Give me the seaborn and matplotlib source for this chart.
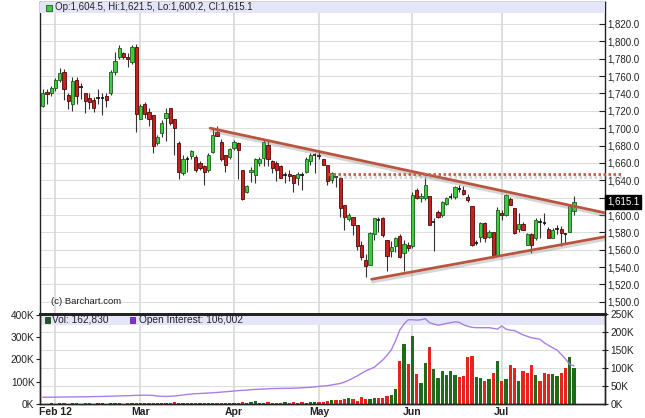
import numpy as np
import pandas as pd
import seaborn as sns
import matplotlib.pyplot as plt
import matplotlib.patheffects as pe
from matplotlib.patches import Rectangle

# daily candles, Jan 27 .. Jul 26 (trading days, index 0..125)
opens = [1726, 1742, 1740, 1746, 1755, 1765, 1738, 1728, 1755, 1747, 1741, 1735, 1732, 1735, 1735, 1737,
         1740, 1765, 1782, 1786, 1782, 1776, 1793, 1711, 1728, 1719, 1715, 1683, 1694, 1712, 1723, 1710,
         1683, 1648, 1664, 1668, 1667, 1660, 1656, 1652, 1673, 1696, 1684, 1669, 1667, 1677, 1683, 1652,
         1626, 1650, 1646, 1660, 1666, 1681, 1662, 1660, 1657, 1647, 1647, 1646, 1643, 1647, 1649, 1662,
         1670, 1668, 1664, 1658, 1640, 1644, 1643, 1611, 1595, 1598, 1588, 1566, 1548, 1543, 1578, 1594,
         1597, 1571, 1558, 1564, 1576, 1556, 1566, 1564, 1629, 1620, 1620, 1622, 1592, 1604, 1600, 1613,
         1621, 1621, 1631, 1629, 1621, 1610, 1567, 1575, 1591, 1575, 1581, 1554, 1602, 1600, 1618, 1608,
         1584, 1590, 1566, 1578, 1573, 1593, 1590, 1584, 1574, 1583, 1584, 1578, 1581, 1604.5]
highs = [1745, 1745, 1749, 1758, 1769, 1768, 1741, 1759, 1759, 1752, 1741, 1740, 1736, 1745, 1740, 1740,
         1767, 1788, 1796, 1788, 1786, 1796, 1797, 1728, 1730, 1723, 1715, 1692, 1709, 1723, 1723, 1710,
         1685, 1669, 1668, 1675, 1669, 1662, 1658, 1671, 1700, 1703, 1688, 1669, 1677, 1686, 1684, 1652,
         1635, 1655, 1666, 1667, 1686, 1685, 1663, 1662, 1658, 1650, 1652, 1646, 1650, 1650, 1667, 1671,
         1671, 1675, 1664, 1658, 1650, 1645, 1644, 1611, 1602, 1598, 1588, 1570, 1555, 1580, 1597, 1598,
         1598, 1571, 1570, 1575, 1578, 1571, 1569, 1626, 1631, 1625, 1643, 1622, 1596, 1606, 1616, 1621,
         1625, 1633, 1635, 1633, 1624, 1610, 1571, 1592, 1592, 1583, 1581, 1609, 1606, 1624, 1621, 1608,
         1602, 1592, 1579, 1579, 1596, 1597, 1602, 1586, 1585, 1588, 1587, 1579, 1612, 1621.5]
lows = [1724, 1728, 1737, 1743, 1753, 1732, 1722, 1720, 1728, 1734, 1717, 1722, 1719, 1728, 1715, 1724,
        1738, 1761, 1780, 1780, 1770, 1774, 1696, 1710, 1712, 1702, 1671, 1681, 1690, 1685, 1704, 1669,
        1641, 1646, 1650, 1665, 1650, 1652, 1635, 1650, 1671, 1691, 1662, 1650, 1665, 1675, 1641, 1617,
        1625, 1638, 1637, 1656, 1656, 1656, 1648, 1639, 1643, 1637, 1639, 1627, 1635, 1629, 1648, 1658,
        1648, 1664, 1658, 1635, 1637, 1632, 1598, 1583, 1593, 1577, 1560, 1548, 1529, 1542, 1571, 1581,
        1575, 1536, 1552, 1557, 1550, 1535, 1558, 1562, 1618, 1615, 1617, 1589, 1558, 1596, 1598, 1612,
        1618, 1619, 1627, 1623, 1615, 1564, 1565, 1569, 1569, 1573, 1550, 1553, 1594, 1599, 1611, 1578,
        1581, 1583, 1565, 1556, 1571, 1573, 1588, 1573, 1573, 1578, 1564, 1568, 1580, 1600.2]
closes = [1741, 1739, 1746, 1756, 1764, 1745, 1731, 1754, 1737, 1747, 1731, 1730, 1723, 1734, 1735, 1732,
          1765, 1777, 1792, 1782, 1780, 1794, 1716, 1725, 1716, 1711, 1680, 1690, 1706, 1718, 1706, 1700,
          1650, 1665, 1664, 1674, 1652, 1654, 1649, 1669, 1692, 1691, 1664, 1658, 1676, 1684, 1675, 1618,
          1633, 1652, 1664, 1664, 1684, 1664, 1654, 1652, 1643, 1646, 1645, 1637, 1647, 1646, 1665, 1669,
          1669, 1668, 1658, 1639, 1648, 1643, 1608, 1598, 1600, 1589, 1564, 1552, 1541, 1579, 1596, 1595,
          1577, 1553, 1563, 1573, 1552, 1567, 1562, 1623, 1620, 1622, 1635, 1589, 1593, 1598, 1615, 1620,
          1621, 1632, 1630, 1624, 1617, 1566, 1568, 1591, 1574, 1581, 1554, 1606, 1600, 1623, 1612, 1579,
          1590, 1583, 1578, 1566, 1594, 1592, 1591, 1573, 1583, 1584, 1579, 1578, 1610, 1615.1]

# volume (left scale, K) and open interest (right scale, K)
volumes = [2, 2, 3, 2, 3, 3, 2, 3, 3, 2, 3, 3, 2, 3, 3, 2, 4, 3, 3, 2, 3, 3, 4,
           3, 4, 3, 5, 4, 4, 3, 4, 9, 5, 4, 4, 5, 4, 6, 4, 5, 5, 4, 6, 5, 6,
           6, 5, 9, 6, 7, 13, 6, 5, 7, 6, 6, 5, 7, 6, 8, 5, 7, 6, 8, 7,
           10, 10, 13, 18, 18, 18, 21, 26, 22, 14, 32, 22, 22, 29, 29,
           29, 37, 40, 66, 192, 269, 178, 307, 136, 96, 184, 254, 158, 117, 149, 130, 150, 131, 122, 125,
           213, 216, 122, 117, 104, 114, 141, 192, 102, 110, 173, 162, 102, 150, 141, 173, 130, 102, 141,
           133, 136, 126, 141, 162, 210, 162.83]
open_interest = [18.5, 18.7, 18.9, 19.0, 19.2, 19.3, 19.5, 19.6, 19.8, 19.9, 20.1, 20.3, 20.6, 20.8, 21.0,
                 21.3, 21.6, 22.0, 22.4, 22.8, 23.1, 23.5, 24.0,
                 24.2, 24.4, 24.3, 23.8, 22.0, 21.2, 21.0, 21.5, 22.3, 23.5, 25.0, 26.5, 27.8, 28.6, 29.2,
                 29.8, 30.5, 31.2, 32.0, 33.0, 34.1, 35.0,
                 36.0, 37.2, 37.8, 38.5, 39.6, 40.6, 41.0, 41.5, 42.2, 42.8, 43.0, 43.3, 43.6, 43.5, 44.0,
                 44.4, 45.0, 45.8, 46.5, 47.4,
                 49, 50, 51, 53, 55, 57, 61, 66, 72, 78, 85, 92, 97, 102,
                 112, 122, 135, 150, 175, 205, 222, 234, 234, 233, 234, 237, 226, 222, 219, 221, 224, 226,
                 228, 227, 220, 216, 213, 212, 212, 212, 212, 210, 208, 217, 208, 205, 204, 198, 192, 188,
                 184, 182, 180, 170, 163, 156, 150, 138, 125, 110, 106.002]

month_ticks = [3, 23, 45, 65, 87, 108]
month_labels = ["Feb 12", "Mar", "Apr", "May", "Jun", "Jul"]
price_ticks = list(range(1500, 1821, 20))
vol_ticks = [0, 100, 200, 300, 400]
oi_ticks = [0, 50, 100, 150, 200, 250]

# drawn trend lines (index, price)
upper_line = ([39.4, 132.3], [1700, 1602.5])
lower_line = ([77.4, 132.3], [1526, 1575])
resist_line = ([67.1, 136.3], [1647.4, 1647.4])

sns.set_style("white")
plt.rcParams['font.family'] = ['Liberation Sans', 'DejaVu Sans']
plt.rcParams['font.size'] = 7

df = pd.DataFrame({'k': np.arange(len(closes)), 'open': opens, 'high': highs, 'low': lows,
                   'close': closes, 'volume': volumes, 'oi': open_interest})
df['up'] = df['close'] >= df['open']
df['vol_up'] = df['close'].diff().fillna(1) >= 0

W, H = 645, 418
fig = plt.figure(figsize=(W / 100, H / 100), dpi=100)
ax = fig.add_axes([40 / W, 1 - 314 / H, 565 / W, 312 / H])
axv = fig.add_axes([40 / W, 1 - 404 / H, 565 / W, 90 / H])
xlim = (-0.64, 132.3)
grid_c = '#dedede'

# price panel
ax.set_xlim(*xlim)
ax.set_ylim(1486, 1845.3)
for p in price_ticks:
    ax.axhline(p, color=grid_c, lw=0.8, zorder=0)
for m in month_ticks:
    ax.axvline(m, color='#d8d8d8', lw=1.2, zorder=0)

green, green_e = '#3ccc3c', '#1c5a1c'
red, red_e = '#cc2020', '#4a0808'
ax.vlines(df['k'], df['low'], df['high'], color='#333333', lw=0.8, zorder=2)
for _, r in df.iterrows():
    lo, hi = min(r['open'], r['close']), max(r['open'], r['close'])
    if hi - lo < 1.5:
        ax.hlines((lo + hi) / 2, r['k'] - 0.4, r['k'] + 0.4, color='#111111', lw=1.2, zorder=3)
    else:
        ax.bar(r['k'], hi - lo, bottom=lo, width=0.74, color=green if r['up'] else red,
               edgecolor=green_e if r['up'] else red_e, lw=0.6, zorder=3)

line_c = '#b9553f'
shadow = [pe.SimpleLineShadow(offset=(0.5, -2.0), alpha=0.35, shadow_color='#888888'), pe.Normal()]
ax.plot(*upper_line, color=line_c, lw=2.0, zorder=4, solid_capstyle='round', path_effects=shadow)
ax.plot(*lower_line, color=line_c, lw=2.0, zorder=4, solid_capstyle='round', path_effects=shadow)
ax.plot(*resist_line, color='#c4604a', lw=2.0, ls=(0, (0.9, 0.9)), zorder=4, clip_on=False,
        path_effects=shadow)

ax.yaxis.tick_right()
ax.set_yticks(price_ticks)
# the last-price box takes the place of the 1,620.0 label
ax.set_yticklabels(["" if abs(p - closes[-1]) < 10 else f"{p:,.1f}" for p in price_ticks])
ax.tick_params(axis='y', direction='in', length=4, pad=2, labelsize=7, colors='#222222')
ax.set_xticks([])
for s in ax.spines.values():
    s.set_color('#222222')
    s.set_linewidth(1.0)

ax.add_patch(Rectangle((0, 1 - 11 / 312), 1, 11 / 312, transform=ax.transAxes,
                       facecolor='#e5e5f9', edgecolor='none', zorder=5))
ax.add_patch(Rectangle((6 / 565, 1 - 9 / 312), 6 / 565, 6 / 312, transform=ax.transAxes,
                       facecolor=green, edgecolor=green_e, lw=0.6, zorder=6))
ax.text(15 / 565, 1 - 5.5 / 312, "Op:1,604.5, Hi:1,621.5, Lo:1,600.2, Cl:1,615.1",
        transform=ax.transAxes, va='center', ha='left', fontsize=7.0, color='#222222', zorder=6)
ax.text(11 / 565, 12 / 312, "(c) Barchart.com", transform=ax.transAxes, va='center', ha='left',
        fontsize=6.8, color='#222222')
ax.text(1.004, closes[-1], f"{closes[-1]:,.1f}", transform=ax.get_yaxis_transform(),
        va='center', ha='left', fontsize=7, color='white', zorder=10, clip_on=False,
        bbox=dict(boxstyle='square,pad=0.2', facecolor='black', edgecolor='black'))

# volume panel
axv.set_xlim(*xlim)
axv.set_ylim(0, 404)
for v in oi_ticks[1:]:
    axv.axhline(v * 1.616, color=grid_c, lw=0.8, zorder=0)
for m in month_ticks:
    axv.axvline(m, color='#d8d8d8', lw=1.2, zorder=0)
axv.bar(df['k'], df['volume'], width=0.72,
        color=np.where(df['vol_up'], '#1e6b1e', '#e8231e'), lw=0, zorder=2)
axv.add_patch(Rectangle((0, 1 - 11 / 90), 1, 11 / 90, transform=axv.transAxes,
                        facecolor='#e5e5f9', edgecolor='none', zorder=1))
axv.set_yticks(vol_ticks)
axv.set_yticklabels([f"{v}K" for v in vol_ticks])
axv.tick_params(axis='y', direction='out', length=3, pad=1, labelsize=7.3, colors='#222222')
axv.set_xticks(month_ticks)
axv.set_xticklabels(month_labels, fontweight='bold')
axv.tick_params(axis='x', length=0, pad=2, labelsize=7.5, colors='#222222')

axo = axv.twinx()
sns.lineplot(data=df, x='k', y='oi', ax=axo, color='#a97ee6', lw=1.0, zorder=5)
axo.set_xlim(*xlim)
axo.set_ylim(0, 250)
axo.set_ylabel('')
axo.set_xlabel('')
axv.set_xlabel('')
axo.set_yticks(oi_ticks)
axo.set_yticklabels([f"{v}K" for v in oi_ticks])
axo.tick_params(axis='y', direction='inout', length=4, pad=2, labelsize=7.3, colors='#222222')
for a in (axv, axo):
    for s in a.spines.values():
        s.set_color('#222222')
        s.set_linewidth(1.0)
    a.spines['top'].set_linewidth(2.0)

axo.add_patch(Rectangle((5 / 565, 1 - 9 / 90), 5 / 565, 6 / 90, transform=axo.transAxes,
                        facecolor='#1e5a1e', edgecolor='#0c300c', lw=0.5, zorder=6))
axo.text(12 / 565, 1 - 5.5 / 90, "Vol: 162,830", transform=axo.transAxes, va='center',
         ha='left', fontsize=7.3, color='#222222', zorder=6)
axo.add_patch(Rectangle((90 / 565, 1 - 9 / 90), 5 / 565, 6 / 90, transform=axo.transAxes,
                        facecolor='#8a2be2', edgecolor='#4b1080', lw=0.5, zorder=6))
axo.text(99 / 565, 1 - 5.5 / 90, "Open Interest: 106,002", transform=axo.transAxes, va='center',
         ha='left', fontsize=7.3, color='#222222', zorder=6)

fig.savefig("out.png", dpi=100, facecolor='white')
